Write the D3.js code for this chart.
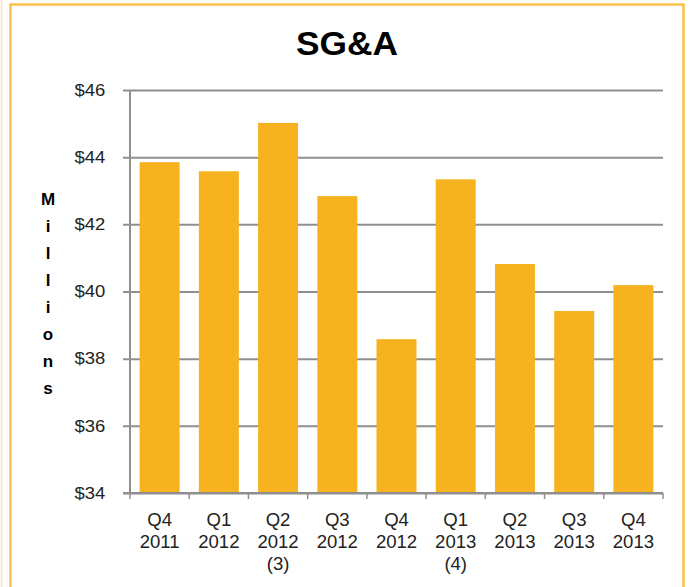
<!DOCTYPE html>
<html lang="en">
<head>
    <meta charset="UTF-8">
    <title>SG&amp;A</title>
    <style>
        body { margin: 0; background: #fff; }
        svg { display: block; font-family: "Liberation Sans", Arial, sans-serif; }
    </style>
</head>
<body>
    <svg id="chart" width="691" height="587"></svg>
    <script src="https://d3js.org/d3.v7.min.js"></script>
    <script>
        // data
        var quarters = ["Q4", "Q1", "Q2", "Q3", "Q4", "Q1", "Q2", "Q3", "Q4"];
        var years = ["2011", "2012", "2012", "2012", "2012", "2013", "2013", "2013", "2013"];
        var notes = ["", "", "(3)", "", "", "(4)", "", "", ""];
        var sga = [43.85, 43.58, 45.02, 42.84, 38.58, 43.34, 40.82, 39.42, 40.19];
        var yTicks = [34, 36, 38, 40, 42, 44, 46];
        var axisTitle = "Millions";

        var margin = { top: 90, left: 130, right: 28, bottom: 94 },
            width = 691 - margin.left - margin.right,
            height = 587 - margin.top - margin.bottom;

        // the reference text is a bit wider than Liberation Sans
        var stretch = 1.12;

        var svg = d3.select("#chart");

        // frame
        svg.append("line")
            .attr("x1", 1.5).attr("x2", 1.5).attr("y1", 0).attr("y2", 587)
            .attr("stroke", "#fde3b0").attr("stroke-width", 1.5);
        svg.append("rect")
            .attr("x", 10.5).attr("y", 4.5)
            .attr("width", 673).attr("height", 600)
            .attr("fill", "none")
            .attr("stroke", "#fbc14a")
            .attr("stroke-width", 2.5);

        // title
        svg.append("text")
            .attr("transform", "translate(347,55) scale(1.07,1)")
            .attr("text-anchor", "middle")
            .style("font-size", "33px")
            .style("font-weight", "bold")
            .text("SG&A");

        var g = svg.append("g")
            .attr("transform", "translate(" + margin.left + "," + margin.top + ")");

        var idx = d3.range(sga.length);

        var x = d3.scaleBand()
            .domain(idx)
            .range([0, width])
            .paddingInner(0.325)
            .paddingOuter(0.1625);

        var y = d3.scaleLinear()
            .domain([34, 46])
            .range([height, 0]);

        // gridlines + y axis
        var yAxis = g.append("g")
            .call(d3.axisLeft(y)
                .tickValues(yTicks)
                .tickSize(-width)
                .tickPadding(22)
                .tickFormat(function(d) { return "$" + d; }));
        yAxis.select(".domain").remove();
        yAxis.selectAll(".tick line")
            .attr("x1", -7)
            .attr("stroke", "#8f8f8f")
            .attr("stroke-width", 2);
        yAxis.selectAll(".tick text")
            .attr("fill", "#222")
            .attr("transform", "scale(" + stretch + ",1)")
            .style("font-size", "16.5px");

        // bars
        g.selectAll(".bar")
            .data(idx)
            .enter().append("rect")
            .attr("class", "bar")
            .attr("x", function(i) { return x(i); })
            .attr("width", x.bandwidth())
            .attr("y", function(i) { return y(sga[i]); })
            .attr("height", function(i) { return height - y(sga[i]); })
            .attr("fill", "#f7b21f");

        // axis lines
        g.append("line")
            .attr("x1", 0).attr("x2", 0).attr("y1", 0).attr("y2", height)
            .attr("stroke", "#8f8f8f").attr("stroke-width", 2);
        g.append("line")
            .attr("x1", -7).attr("x2", width).attr("y1", height).attr("y2", height)
            .attr("stroke", "#8f8f8f").attr("stroke-width", 2);

        // category separators on the x axis
        var step = x.step();
        g.selectAll(".xsep")
            .data(d3.range(sga.length + 1))
            .enter().append("line")
            .attr("x1", function(i) { return i * step; })
            .attr("x2", function(i) { return i * step; })
            .attr("y1", height)
            .attr("y2", height + 6)
            .attr("stroke", "#8f8f8f").attr("stroke-width", 1.5);

        // category labels
        var lab = g.selectAll(".xlab")
            .data(idx)
            .enter().append("text")
            .attr("class", "xlab")
            .attr("text-anchor", "middle")
            .attr("fill", "#222")
            .style("font-size", "17.5px")
            .attr("transform", function(i) {
                return "translate(" + (x(i) + x.bandwidth() / 2) + "," + (height + 33) + ") scale(1.06,1)";
            });
        lab.append("tspan").attr("x", 0).attr("y", 0).text(function(i) { return quarters[i]; });
        lab.append("tspan").attr("x", 0).attr("y", 22).text(function(i) { return years[i]; });
        lab.append("tspan").attr("x", 0).attr("y", 44).text(function(i) { return notes[i]; });

        // stacked y axis title
        svg.append("g")
            .selectAll("text")
            .data(axisTitle.split(""))
            .enter().append("text")
            .attr("x", 48)
            .attr("y", function(d, i) { return 205 + i * 27; })
            .attr("text-anchor", "middle")
            .style("font-size", "17px")
            .style("font-weight", "bold")
            .text(function(d) { return d; });
    </script>
</body>
</html>
